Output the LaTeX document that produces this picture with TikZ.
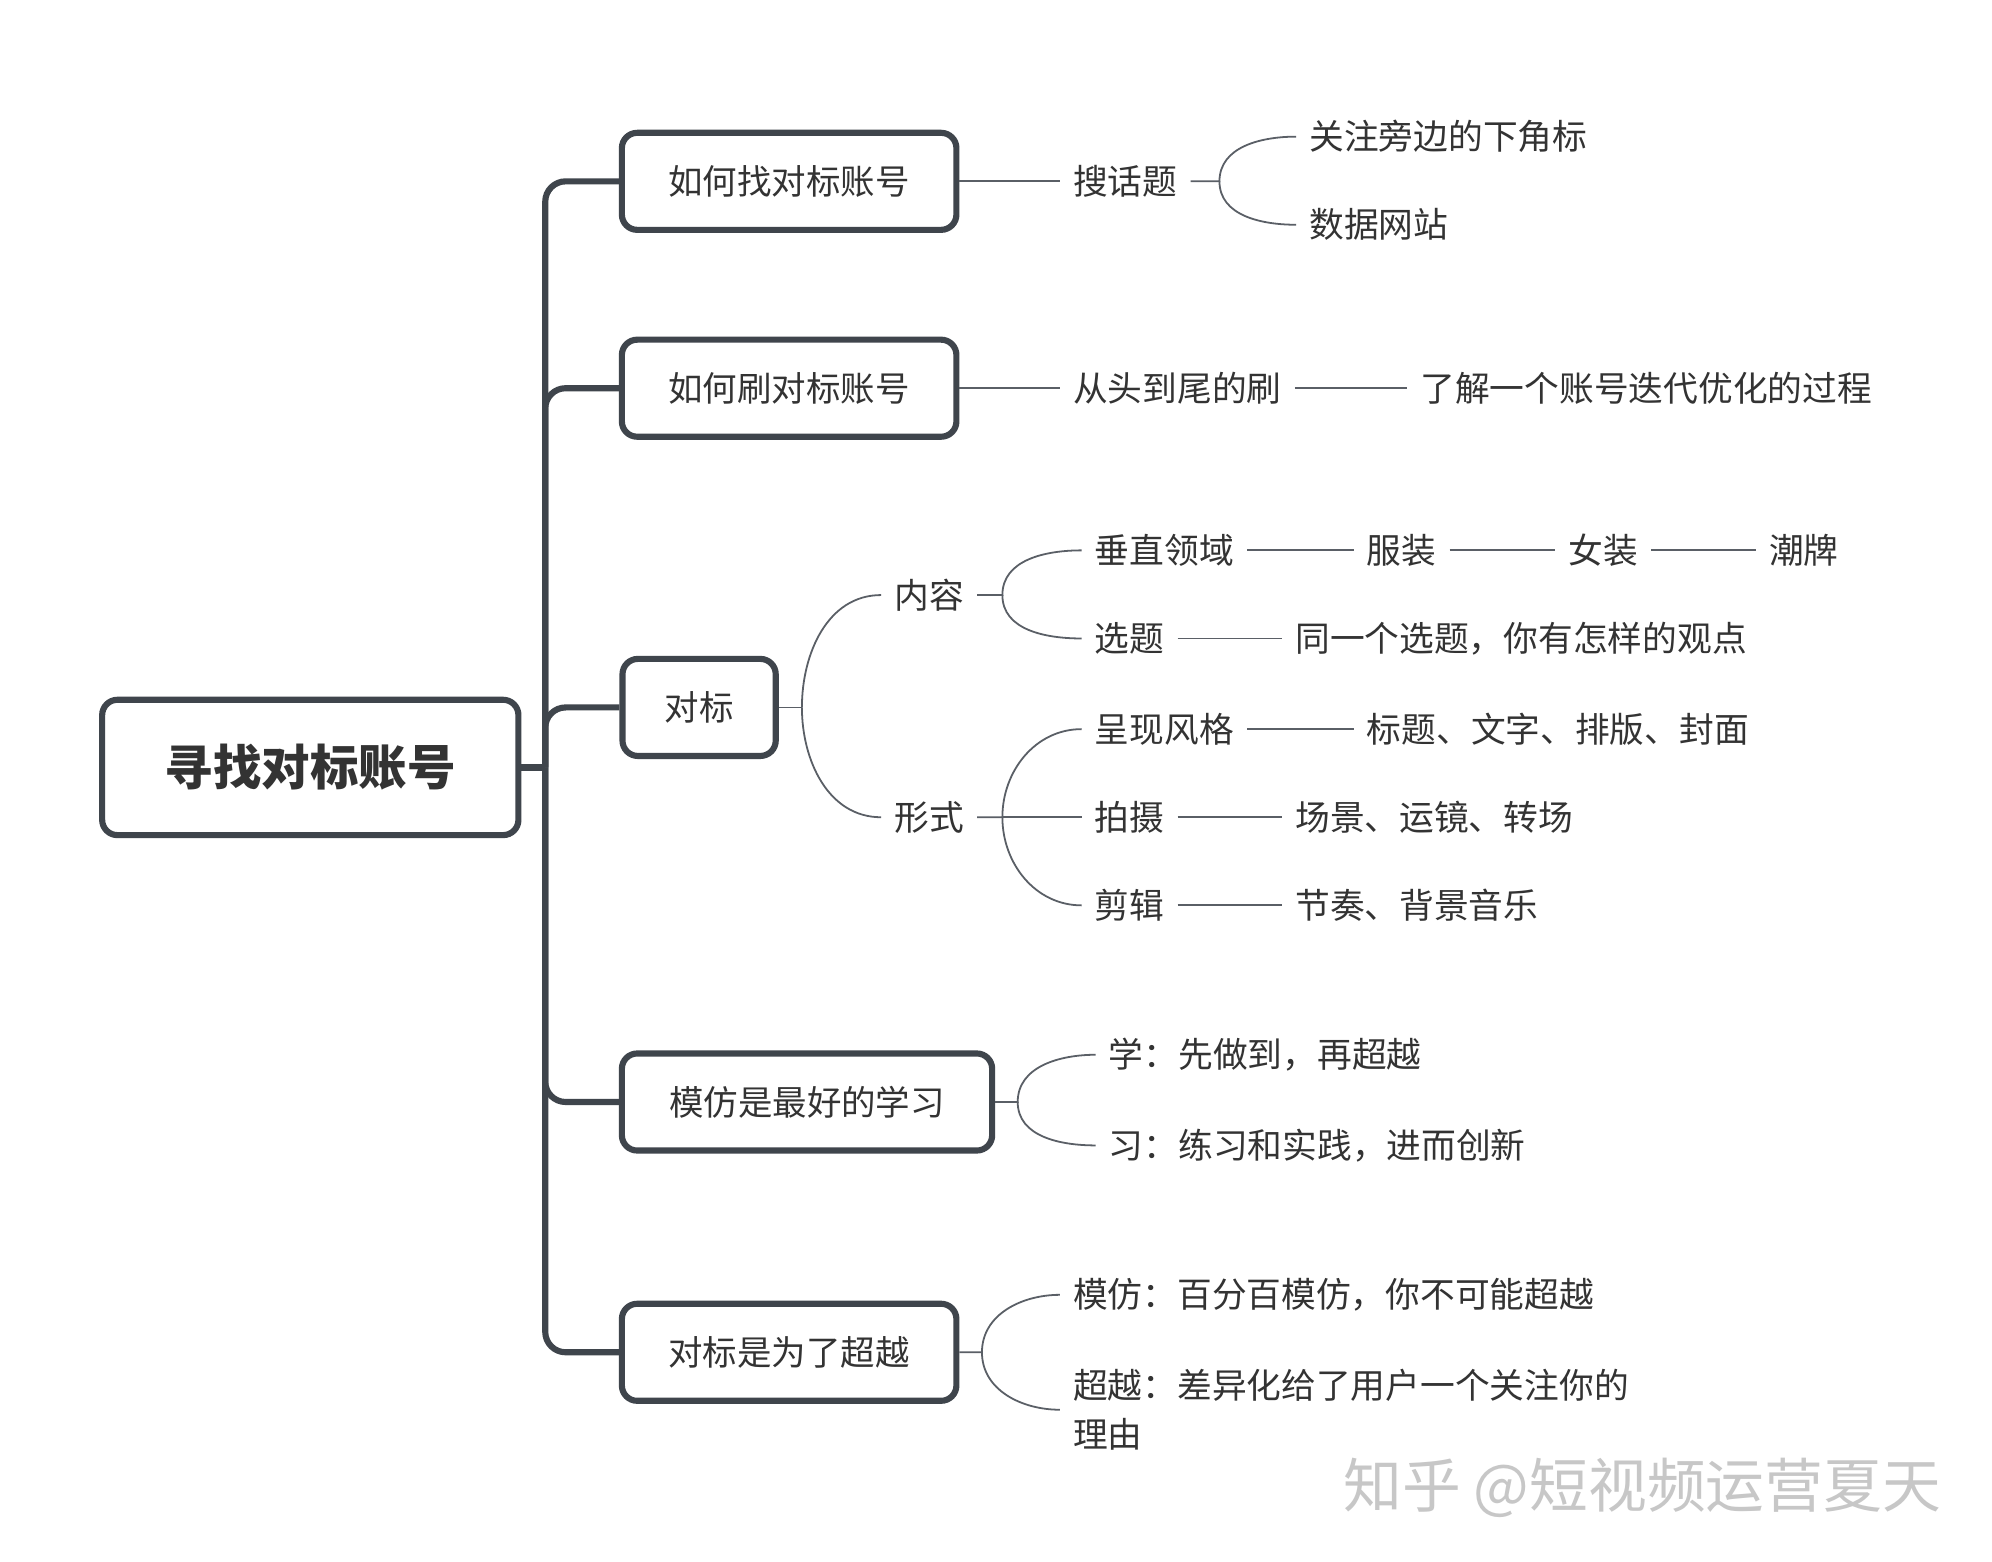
\documentclass[tikz,border=0pt]{standalone}
\usepackage{fontspec}
\setmainfont{Noto Sans CJK SC}
\begin{document}
\begin{tikzpicture}[x=0.5pt,y=-0.5pt,
  line/.style={draw=lc,line width=0.7pt},
  box/.style={draw=bc,line width=2.4pt,rounded corners=6pt,font=\fontsize{13.5}{16}\selectfont,text=txt,inner sep=0pt,minimum height=38pt},
  t/.style={font=\fontsize{13.6}{16}\selectfont,text=txt,inner xsep=5pt,inner ysep=2pt,anchor=west},
  trunk/.style={draw=bc,line width=2.4pt,rounded corners=8pt}]
\definecolor{bc}{HTML}{3F454C}
\definecolor{lc}{HTML}{5A5F66}
\definecolor{txt}{HTML}{333333}
\useasboundingbox (0,0) rectangle (1560,1223);
\fill[white] (0,0) rectangle (1560,1223);
% root
\node[box,minimum width=163pt,minimum height=53pt,font=\fontsize{19}{22}\selectfont\bfseries] (root) at (243,601) {寻找对标账号};
\node[box,minimum width=131pt] (b1) at (618,142) {如何找对标账号};
\node[box,minimum width=131pt] (b2) at (618,304) {如何刷对标账号};
\node[box,minimum width=60pt] (b3) at (547.5,554) {对标};
\node[box,minimum width=145pt] (b4) at (632,863) {模仿是最好的学习};
\node[box,minimum width=131pt] (b5) at (618,1059) {对标是为了超越};
\coordinate (tr) at (427,601);
\draw[trunk] (root.east) -- (tr);
\foreach \b in {b1,b2,b3,b4,b5}{\draw[trunk] (tr) |- (\b.west);}
% branch 1
\node[t] (s1) at (830,142) {搜话题};
\node[t] (s11) at (1015,107) {关注旁边的下角标};
\node[t] (s12) at (1015,176) {数据网站};
\draw[line] (b1.east) -- (s1.west);
\coordinate (j1) at (955,142);
\draw[line] (s1.east) -- (j1) to[out=90,in=180] (s11.west);
\draw[line] (j1) to[out=-90,in=180] (s12.west);
% branch 2
\node[t] (s2) at (830,304) {从头到尾的刷};
\node[t] (s21) at (1102,304) {了解一个账号迭代优化的过程};
\draw[line] (b2.east) -- (s2.west);
\draw[line] (s2.east) -- (s21.west);
% branch 3
\coordinate (j3) at (628,554);
\draw[line] (b3.east) -- (j3);
\node[t] (nr) at (690,466) {内容};
\node[t] (xs) at (690,640) {形式};
\draw[line] (j3) to[out=90,in=180] (nr.west);
\draw[line] (j3) to[out=-90,in=180] (xs.west);
\coordinate (jn) at (785,466);
\node[t] (cz) at (847,431) {垂直领域};
\node[t] (fz) at (1060,431) {服装};
\node[t] (nz) at (1218,431) {女装};
\node[t] (cp) at (1375,431) {潮牌};
\node[t] (xt) at (847,500) {选题};
\node[t] (xt1) at (1004,500) {同一个选题，你有怎样的观点};
\draw[line] (nr.east) -- (jn) to[out=90,in=180] (cz.west);
\draw[line] (jn) to[out=-90,in=180] (xt.west);
\draw[line] (cz.east) -- (fz.west);
\draw[line] (fz.east) -- (nz.west);
\draw[line] (nz.east) -- (cp.west);
\draw[line] (xt.east) -- (xt1.west);
\coordinate (jx) at (785,640);
\node[t] (cx) at (847,571) {呈现风格};
\node[t] (cx1) at (1060,571) {标题、文字、排版、封面};
\node[t] (ps) at (847,640) {拍摄};
\node[t] (ps1) at (1004,640) {场景、运镜、转场};
\node[t] (jj) at (847,709) {剪辑};
\node[t] (jj1) at (1004,709) {节奏、背景音乐};
\draw[line] (xs.east) -- (jx) to[out=90,in=180] (cx.west);
\draw[line] (jx) -- (ps.west);
\draw[line] (jx) to[out=-90,in=180] (jj.west);
\draw[line] (cx.east) -- (cx1.west);
\draw[line] (ps.east) -- (ps1.west);
\draw[line] (jj.east) -- (jj1.west);
% branch 4
\coordinate (j4) at (797,863);
\node[t] (x1) at (858,826) {学：先做到，再超越};
\node[t] (x2) at (858,897) {习：练习和实践，进而创新};
\draw[line] (b4.east) -- (j4) to[out=90,in=180] (x1.west);
\draw[line] (j4) to[out=-90,in=180] (x2.west);
% branch 5
\coordinate (j5) at (769,1059);
\node[t] (m1) at (830,1014) {模仿：百分百模仿，你不可能超越};
\node[t,align=left,font=\fontsize{13.6}{19}\selectfont] (m2) at (830,1104) {超越：差异化给了用户一个关注你的\\理由};
\draw[line] (b5.east) -- (j5) to[out=90,in=180] (m1.west);
\draw[line] (j5) to[out=-90,in=180] (m2.west);
% watermark
\node[anchor=west,font=\fontsize{23}{26}\selectfont,text=black!22] (wm) at (1045,1165) {知乎 @短视频运营夏天};
\end{tikzpicture}
\end{document}
